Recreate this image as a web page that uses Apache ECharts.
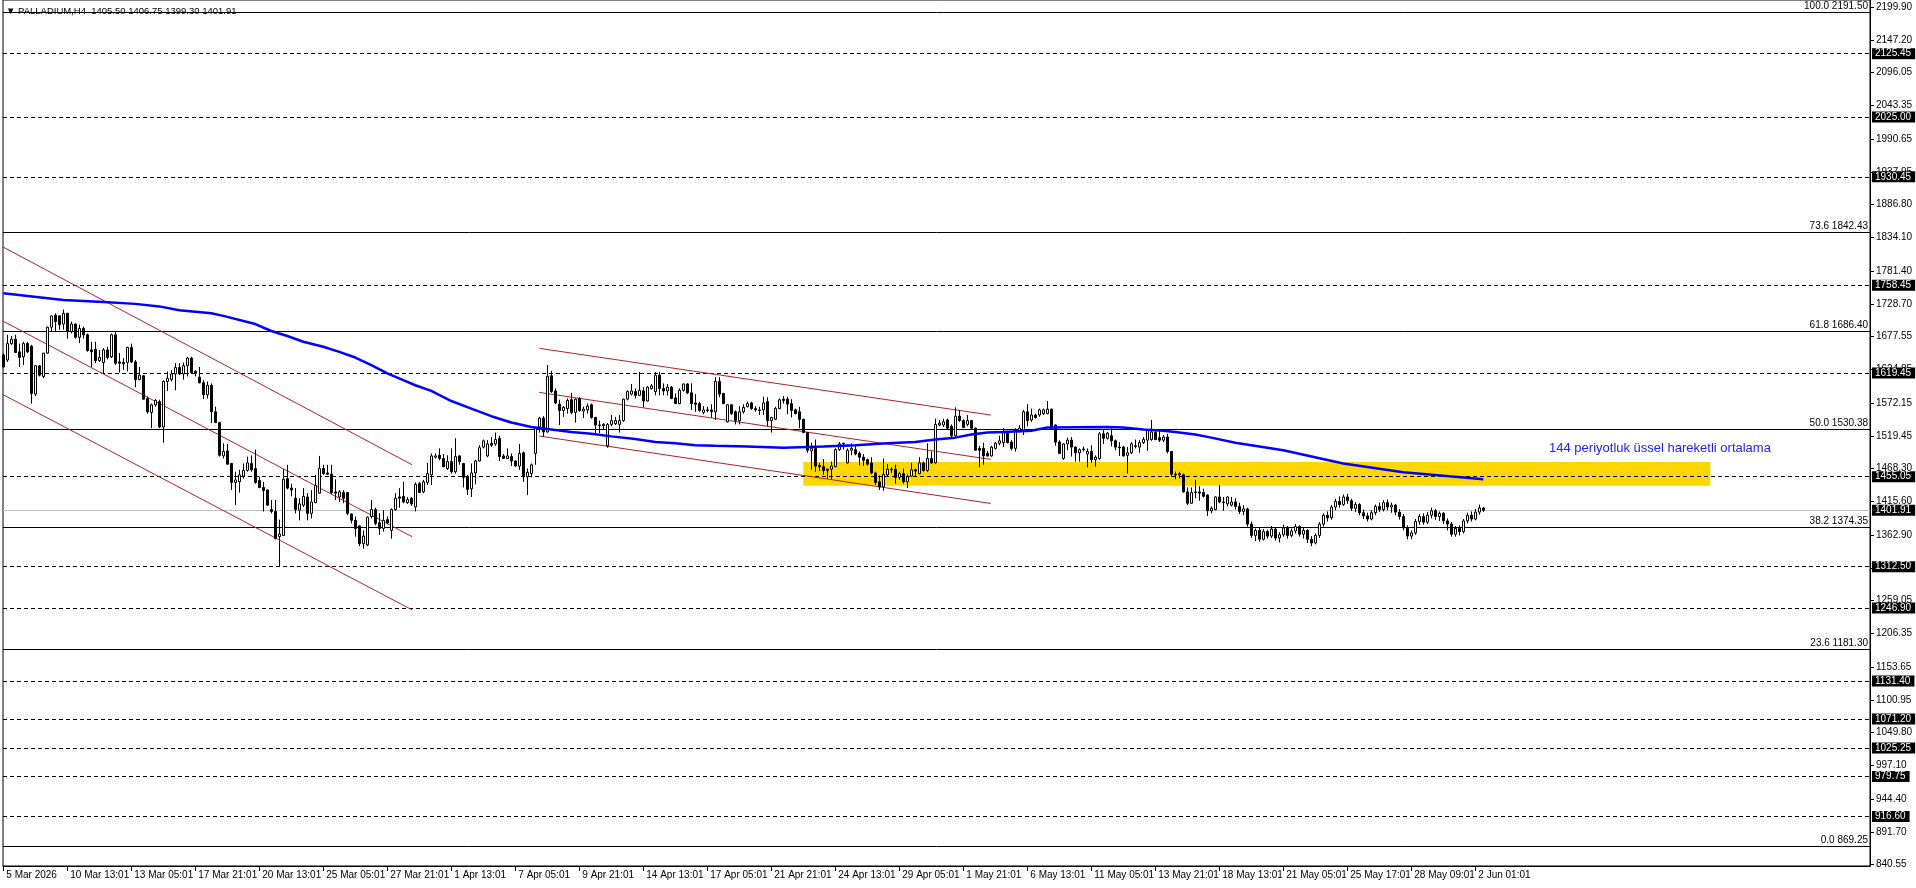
<!DOCTYPE html>
<html>
<head>
<meta charset="UTF-8">
<title>PALLADIUM,H4</title>
<script src="https://cdn.jsdelivr.net/npm/echarts@6/dist/echarts.min.js"></script>
<style>
    html, body { margin: 0; padding: 0; background: #fff; }
    #chart { width: 1916px; height: 888px; }
</style>
</head>
<body>
<div id="chart"></div>
<script type="text/javascript">
// bar-by-bar H4 candles, [open, close, low, high]
var ohlc = [
    [1648,1629,1627,1651],[1640,1666,1637,1680],[1666,1673,1664,1678],[1673,1652,1651,1680],[1653,1644,1629,1666],[1645,1666,1632,1669],[1666,1653,1651,1669],[1662,1587,1571,1664],
    [1586,1631,1583,1632],[1631,1616,1614,1632],[1614,1651,1611,1651],[1651,1692,1650,1693],[1692,1710,1685,1711],[1711,1701,1685,1714],[1710,1696,1688,1711],[1697,1714,1688,1720],
    [1714,1685,1674,1715],[1685,1697,1682,1701],[1697,1676,1674,1698],[1676,1690,1667,1696],[1690,1680,1674,1693],[1680,1655,1653,1682],[1656,1653,1629,1669],[1657,1639,1635,1669],
    [1639,1644,1637,1656],[1636,1656,1619,1659],[1656,1644,1641,1661],[1645,1680,1643,1682],[1680,1635,1632,1686],[1637,1635,1620,1651],[1636,1634,1624,1643],[1636,1660,1622,1661],
    [1660,1637,1635,1666],[1637,1609,1597,1640],[1609,1616,1608,1629],[1615,1578,1577,1616],[1579,1558,1555,1582],[1557,1569,1532,1571],[1569,1576,1566,1578],[1574,1534,1532,1577],
    [1534,1606,1509,1608],[1606,1611,1591,1622],[1609,1618,1606,1624],[1618,1628,1592,1635],[1628,1618,1616,1635],[1618,1631,1609,1636],[1631,1643,1614,1645],[1643,1620,1618,1645],
    [1622,1619,1614,1624],[1613,1604,1603,1629],[1604,1585,1578,1608],[1585,1600,1579,1606],[1600,1558,1540,1603],[1558,1541,1540,1566],[1541,1489,1487,1542],[1488,1495,1484,1508],
    [1496,1475,1474,1507],[1476,1446,1434,1477],[1446,1450,1410,1463],[1447,1458,1430,1466],[1456,1465,1452,1476],[1465,1477,1463,1487],[1476,1466,1463,1489],[1468,1446,1444,1498],
    [1449,1438,1437,1455],[1438,1433,1400,1447],[1434,1410,1409,1435],[1403,1400,1397,1418],[1400,1357,1356,1418],[1360,1364,1312,1387],[1362,1451,1361,1467],[1452,1437,1435,1474],
    [1437,1434,1424,1444],[1421,1403,1397,1437],[1402,1412,1386,1421],[1410,1424,1407,1437],[1423,1397,1386,1429],[1397,1415,1389,1434],[1414,1441,1413,1458],[1429,1468,1428,1488],
    [1468,1460,1458,1474],[1461,1459,1458,1474],[1459,1430,1428,1474],[1431,1429,1418,1451],[1423,1431,1415,1434],[1430,1421,1413,1434],[1430,1397,1394,1431],[1396,1386,1381,1397],
    [1386,1373,1360,1392],[1377,1349,1345,1378],[1349,1361,1341,1370],[1347,1391,1345,1392],[1392,1403,1389,1418],[1403,1381,1378,1406],[1382,1373,1363,1397],[1373,1386,1368,1402],
    [1387,1382,1380,1392],[1370,1403,1357,1405],[1403,1421,1401,1429],[1423,1421,1406,1437],[1424,1415,1413,1447],[1414,1419,1412,1423],[1421,1412,1409,1423],[1407,1443,1400,1446],
    [1444,1430,1429,1447],[1431,1447,1429,1450],[1446,1460,1442,1477],[1458,1488,1442,1492],[1486,1488,1484,1492],[1489,1484,1481,1500],[1484,1471,1470,1491],[1468,1479,1466,1489],
    [1479,1463,1460,1500],[1463,1487,1460,1516],[1488,1479,1474,1489],[1476,1454,1438,1477],[1455,1435,1426,1458],[1436,1461,1423,1476],[1461,1480,1443,1482],[1480,1501,1479,1505],
    [1502,1512,1500,1514],[1488,1507,1486,1513],[1508,1505,1502,1518],[1507,1514,1504,1525],[1516,1487,1480,1520],[1488,1484,1483,1491],[1484,1488,1483,1500],[1487,1480,1472,1492],
    [1480,1472,1471,1481],[1472,1492,1466,1507],[1493,1455,1447,1495],[1455,1462,1426,1468],[1460,1474,1454,1476],[1492,1532,1474,1533],[1534,1548,1525,1550],[1548,1526,1518,1551],
    [1526,1614,1525,1632],[1615,1590,1588,1623],[1591,1572,1570,1595],[1570,1560,1537,1577],[1560,1565,1550,1567],[1563,1576,1555,1579],[1577,1557,1554,1588],[1557,1578,1541,1579],
    [1579,1560,1558,1581],[1559,1562,1548,1566],[1561,1567,1555,1571],[1569,1549,1547,1571],[1549,1537,1524,1550],[1537,1536,1524,1544],[1536,1538,1529,1540],[1504,1538,1501,1540],
    [1538,1544,1535,1553],[1539,1544,1537,1550],[1538,1544,1525,1553],[1544,1578,1542,1579],[1578,1590,1576,1592],[1586,1591,1584,1602],[1590,1584,1579,1595],[1584,1592,1583,1621],
    [1591,1575,1565,1597],[1575,1597,1574,1599],[1595,1599,1593,1602],[1590,1616,1584,1621],[1616,1595,1584,1621],[1595,1591,1584,1603],[1591,1597,1584,1602],[1597,1579,1578,1599],
    [1580,1571,1570,1587],[1571,1592,1570,1595],[1592,1602,1590,1603],[1602,1588,1586,1603],[1588,1571,1561,1603],[1572,1570,1558,1586],[1571,1560,1558,1574],[1557,1561,1554,1567],
    [1561,1560,1557,1566],[1561,1558,1549,1570],[1558,1606,1545,1613],[1606,1586,1581,1613],[1587,1571,1570,1588],[1542,1569,1541,1570],[1569,1555,1553,1570],[1558,1544,1538,1560],
    [1544,1558,1538,1567],[1558,1565,1555,1570],[1566,1571,1565,1574],[1572,1563,1561,1574],[1563,1561,1558,1567],[1561,1560,1553,1566],[1561,1572,1553,1582],[1574,1544,1535,1581],
    [1544,1549,1525,1550],[1546,1563,1545,1566],[1563,1577,1562,1579],[1578,1576,1571,1583],[1578,1570,1554,1582],[1571,1560,1549,1578],[1561,1555,1554,1563],[1558,1546,1532,1566],
    [1546,1525,1524,1547],[1525,1497,1493,1526],[1496,1500,1466,1509],[1500,1472,1463,1514],[1473,1471,1464,1477],[1471,1465,1458,1483],[1465,1467,1452,1468],[1467,1472,1451,1479],
    [1471,1498,1470,1500],[1498,1507,1496,1510],[1508,1507,1498,1509],[1477,1497,1476,1500],[1497,1500,1489,1508],[1498,1491,1489,1505],[1492,1486,1473,1495],[1486,1481,1472,1491],
    [1482,1475,1473,1484],[1477,1461,1459,1486],[1461,1446,1442,1463],[1447,1439,1434,1457],[1439,1459,1433,1484],[1458,1467,1456,1475],[1467,1466,1461,1470],[1467,1454,1444,1474],
    [1454,1460,1450,1463],[1460,1447,1444,1468],[1447,1455,1437,1459],[1456,1466,1455,1477],[1466,1464,1456,1468],[1460,1477,1459,1486],[1477,1465,1463,1479],[1465,1484,1463,1508],
    [1484,1477,1476,1495],[1477,1538,1476,1547],[1537,1540,1535,1545],[1537,1542,1534,1547],[1545,1532,1530,1547],[1535,1520,1518,1538],[1520,1551,1518,1565],[1551,1544,1542,1561],
    [1544,1533,1532,1546],[1538,1544,1535,1553],[1544,1532,1529,1545],[1532,1497,1496,1533],[1500,1497,1470,1504],[1500,1488,1474,1509],[1492,1488,1487,1496],[1488,1502,1487,1504],
    [1500,1508,1498,1510],[1508,1512,1505,1520],[1509,1526,1502,1532],[1525,1509,1508,1528],[1510,1500,1497,1513],[1500,1529,1495,1532],[1528,1532,1525,1537],[1529,1558,1521,1561],
    [1558,1544,1535,1570],[1545,1553,1542,1563],[1553,1549,1547,1555],[1553,1561,1550,1563],[1555,1561,1553,1563],[1555,1562,1554,1575],[1562,1530,1529,1563],[1537,1510,1504,1538],
    [1510,1492,1491,1513],[1484,1507,1482,1508],[1507,1513,1497,1517],[1513,1502,1487,1518],[1502,1493,1479,1503],[1493,1498,1479,1500],[1499,1498,1495,1503],[1491,1495,1470,1500],
    [1495,1482,1477,1505],[1482,1486,1471,1489],[1484,1523,1482,1526],[1523,1516,1507,1530],[1516,1524,1514,1526],[1520,1512,1503,1532],[1512,1502,1497,1514],[1502,1501,1488,1510],
    [1502,1488,1487,1504],[1489,1493,1460,1502],[1493,1507,1491,1510],[1504,1503,1500,1514],[1502,1509,1493,1513],[1509,1514,1507,1518],[1513,1529,1496,1530],[1514,1526,1512,1545],
    [1525,1514,1513,1530],[1517,1513,1510,1530],[1513,1518,1510,1521],[1518,1495,1492,1523],[1495,1459,1455,1496],[1459,1458,1451,1463],[1458,1460,1452,1463],[1458,1431,1430,1460],
    [1431,1413,1410,1438],[1413,1430,1412,1438],[1430,1431,1421,1450],[1431,1429,1417,1440],[1430,1424,1422,1436],[1426,1401,1393,1427],[1401,1405,1397,1408],[1403,1423,1402,1424],
    [1423,1415,1413,1442],[1415,1414,1401,1423],[1412,1423,1408,1424],[1410,1415,1408,1423],[1415,1408,1403,1421],[1408,1400,1396,1414],[1400,1404,1394,1410],[1404,1380,1376,1406],
    [1380,1362,1358,1384],[1362,1370,1353,1373],[1370,1356,1352,1374],[1356,1368,1354,1372],[1368,1361,1357,1371],[1361,1372,1358,1377],[1372,1358,1354,1375],[1358,1363,1351,1367],
    [1363,1374,1360,1379],[1374,1362,1357,1377],[1362,1369,1359,1373],[1369,1376,1365,1380],[1376,1364,1360,1378],[1364,1370,1357,1374],[1370,1356,1350,1372],[1356,1350,1345,1361],
    [1350,1362,1348,1365],[1362,1380,1358,1383],[1380,1394,1376,1397],[1394,1390,1384,1400],[1390,1407,1387,1410],[1407,1416,1402,1420],[1416,1411,1406,1424],[1411,1423,1409,1427],
    [1423,1417,1412,1428],[1417,1405,1401,1420],[1405,1411,1399,1415],[1411,1398,1394,1413],[1398,1393,1388,1403],[1393,1388,1384,1398],[1388,1398,1386,1402],[1398,1408,1394,1411],
    [1408,1403,1399,1414],[1403,1414,1400,1418],[1414,1407,1402,1419],[1407,1410,1398,1414],[1410,1399,1394,1412],[1399,1392,1387,1404],[1392,1374,1370,1396],[1374,1361,1356,1378],
    [1361,1366,1356,1370],[1366,1384,1363,1388],[1384,1392,1379,1396],[1392,1383,1379,1397],[1383,1394,1380,1399],[1394,1401,1389,1406],[1401,1392,1387,1404],[1392,1397,1385,1400],
    [1397,1385,1380,1399],[1385,1380,1370,1389],[1380,1364,1360,1383],[1364,1373,1360,1377],[1373,1368,1362,1378],[1368,1385,1365,1388],[1385,1394,1381,1398],[1394,1388,1384,1400],
    [1388,1399,1386,1404],[1399,1405.5,1395,1411],[1405.5,1401.91,1399.3,1406.75]
];

// 144-period EMA, [bar, value]
var emaLine = [
    [0,1746],[15,1735],[25,1732],[33,1729],[39,1725],[44,1719],[52,1714],[55,1710],[63,1697],[67,1686],
    [71,1678],[75,1669],[80,1661],[84,1653],[88,1644],[92,1632],[96,1619],[100,1608],[103,1600],[107,1591],
    [112,1575],[117,1563],[122,1551],[127,1541],[132,1534],[137,1530],[142,1526],[147,1523],[152,1519],[158,1515],
    [163,1510],[168,1508],[173,1505],[178,1504],[186,1503],[195,1501],[205,1503],[213,1505],[221,1508],[228,1510],
    [233,1514],[238,1517],[242,1522],[246,1525],[250,1526],[257,1528],[261,1533],[276,1534],[280,1533],[285,1530],
    [290,1528],[293,1526],[298,1522],[302,1517],[308,1509],[320,1497],[335,1476],[350,1462],[370,1451]
];

var yTicks = [2199.90, 2147.20, 2096.05, 2043.35, 1990.65, 1937.95, 1886.80, 1834.10, 1781.40, 1728.70,
    1677.55, 1624.85, 1572.15, 1519.45, 1468.30, 1415.60, 1362.90, 1310.20, 1259.05, 1206.35,
    1153.65, 1100.95, 1049.80, 997.10, 944.40, 891.70, 840.55];

var dashedLevels = [2125.45, 2025.00, 1930.45, 1758.45, 1619.45, 1455.05, 1312.50, 1246.90, 1131.40, 1071.20, 1025.25, 979.75, 916.60];
var lastPrice = 1401.91;

var fibPct = ['100.0', '73.6', '61.8', '50.0', '38.2', '23.6', '0.0'];
var fibVal = [2191.50, 1842.43, 1686.40, 1530.38, 1374.35, 1181.30, 869.25];

var xTickBars = [0, 16, 32, 48, 64, 80, 96, 112, 128, 144, 160, 176, 192, 208, 224, 240, 256, 272, 288, 304, 320, 336, 352, 368];
var xTickLabels = ['5 Mar 2026', '10 Mar 13:01', '13 Mar 05:01', '17 Mar 21:01', '20 Mar 13:01', '25 Mar 05:01',
    '27 Mar 21:01', '1 Apr 13:01', '7 Apr 05:01', '9 Apr 21:01', '14 Apr 13:01', '17 Apr 05:01', '21 Apr 21:01',
    '24 Apr 13:01', '29 Apr 05:01', '1 May 21:01', '6 May 13:01', '11 May 05:01', '13 May 21:01', '18 May 13:01',
    '21 May 05:01', '25 May 17:01', '28 May 09:01', '2 Jun 01:01'];

// trend channels, each line = [[bar, price], [bar, price]]
var channelMarch = [
    [[-0.15, 1819.4], [102.2, 1474.0]],
    [[-0.15, 1702.0], [102.2, 1360.0]],
    [[-0.15, 1585.5], [102.2, 1244.0]]
];
var channelApril = [
    [[134, 1658.5], [246.85, 1552.8]],
    [[134, 1588.7], [246.85, 1482.5]],
    [[134, 1519.5], [246.85, 1412.7]]
];

// yellow zone: bars from..to, prices low..high
var zoneBars = [200, 426.75];
var zonePrices = [1440.6, 1478.2];

var emaNote = '144 periyotluk üssel hareketli ortalama';
var emaNoteAt = [441.9, 1500.4];

var titleText = '\u25BC PALLADIUM,H4  1405.50 1406.75 1399.30 1401.91';

var FONT = 'Liberation Sans, Arial, sans-serif';

var myChart = echarts.init(document.getElementById('chart'));

var candleData = ohlc.map(function (d, i) {
    return [i, d[0], d[1], d[2], d[3]];
});

var tagLabel = function (v) {
    return {
        show: true, position: 'end', distance: 2,
        formatter: v.toFixed(2),
        color: '#fff', backgroundColor: '#000',
        fontFamily: FONT, fontSize: 10, lineHeight: 11, padding: [0, 4, 0, 3]
    };
};

var levelLines = [];
dashedLevels.forEach(function (v) {
    levelLines.push({
        yAxis: v,
        lineStyle: {color: '#000', type: [4, 3], width: 1},
        label: tagLabel(v)
    });
});
levelLines.push({
    yAxis: lastPrice,
    lineStyle: {color: '#c0c0c0', type: 'solid', width: 1},
    label: tagLabel(lastPrice)
});
fibVal.forEach(function (v, k) {
    levelLines.push({
        yAxis: v,
        lineStyle: {color: '#000', type: 'solid', width: 1},
        label: {
            show: true, position: 'insideEndTop', distance: [2, 1],
            formatter: fibPct[k] + ' ' + v.toFixed(2),
            color: '#000', fontFamily: FONT, fontSize: 10
        }
    });
});

var series = [
    {
        name: 'zone',
        type: 'line',
        data: [],
        z: 1,
        markArea: {
            silent: true,
            z: 1,
            itemStyle: {color: '#FFD700', opacity: 1},
            data: [[{coord: [zoneBars[0], zonePrices[1]]}, {coord: [zoneBars[1], zonePrices[0]]}]]
        }
    },
    {
        name: 'levels',
        type: 'line',
        data: [],
        z: 2,
        markLine: {
            silent: true,
            z: 2,
            symbol: ['none', 'none'],
            animation: false,
            data: levelLines
        }
    }
];

channelMarch.concat(channelApril).forEach(function (seg, k) {
    series.push({
        name: 'channel' + k,
        type: 'line',
        data: seg,
        z: 3,
        symbol: 'none',
        silent: true,
        lineStyle: {color: '#b22222', width: 1}
    });
});

series.push({
    name: 'PALLADIUM',
    type: 'candlestick',
    data: candleData,
    encode: {x: 0, y: [1, 2, 3, 4]},
    z: 4,
    barWidth: 3,
    itemStyle: {
        color: '#fff',
        color0: '#000',
        borderColor: '#000',
        borderColor0: '#000',
        borderWidth: 1
    }
});

series.push({
    name: 'EMA144',
    type: 'line',
    data: emaLine,
    z: 5,
    symbol: 'none',
    silent: true,
    lineStyle: {color: '#0000ff', width: 2.5},
    markPoint: {
        silent: true,
        z: 6,
        symbol: 'circle',
        symbolSize: 0,
        data: [{
            coord: emaNoteAt,
            label: {
                show: true, position: 'left', distance: 0,
                formatter: emaNote,
                color: '#2020ff', fontFamily: FONT, fontSize: 13
            }
        }]
    }
});

var option = {
    animation: false,
    backgroundColor: '#fff',
    grid: {
        left: 3, right: 46, top: 0, bottom: 22,
        show: true, borderColor: '#000', borderWidth: 1, backgroundColor: 'transparent'
    },
    xAxis: {
        type: 'value',
        min: -0.075,
        max: 466.675,
        axisLine: {show: true, onZero: false, lineStyle: {color: '#000'}},
        splitLine: {show: false},
        axisTick: {show: true, customValues: xTickBars, length: 5, lineStyle: {color: '#000'}},
        axisLabel: {
            customValues: xTickBars,
            formatter: function (v) {
                var k = xTickBars.indexOf(Math.round(v));
                return k >= 0 ? xTickLabels[k] : '';
            },
            align: 'left',
            padding: [0, 0, 0, 3],
            margin: 4,
            color: '#000', fontFamily: FONT, fontSize: 10
        }
    },
    yAxis: {
        type: 'value',
        position: 'right',
        min: 838.1,
        max: 2210.6,
        axisLine: {show: true, onZero: false, lineStyle: {color: '#000'}},
        splitLine: {show: false},
        axisTick: {show: true, customValues: yTicks, length: 4, lineStyle: {color: '#000'}},
        axisLabel: {
            customValues: yTicks,
            formatter: function (v) { return v.toFixed(2); },
            margin: 6,
            color: '#000', fontFamily: FONT, fontSize: 10
        }
    },
    graphic: [{
        type: 'text',
        left: 6,
        top: 6,
        z: 10,
        style: {text: titleText, fill: '#000', font: '9.5px ' + FONT}
    }],
    series: series
};

myChart.setOption(option);
window.onresize = myChart.resize;
</script>
</body>
</html>
